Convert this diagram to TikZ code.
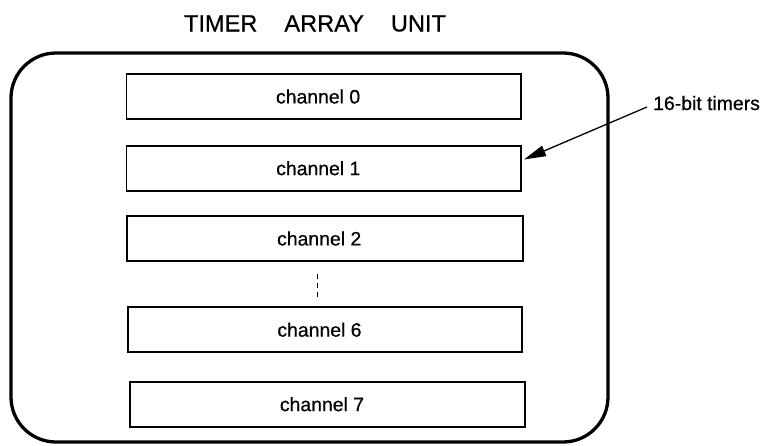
\documentclass[tikz,border=0pt]{standalone}
\usepackage{fontspec}
\setmainfont{Liberation Sans}
\newfontface\medfont{Liberation Sans}[FakeBold=0.6]
\usetikzlibrary{arrows.meta}
\begin{document}
\begin{tikzpicture}[x=1pt,y=-1pt,
  chbox/.style={draw,line width=1.8pt,minimum height=45pt,inner sep=0pt,font=\medfont\fontsize{19.4pt}{22pt}\selectfont},
  outer/.style={draw,line width=3.3pt,rounded corners=45pt,inner sep=0pt},
  lbl/.style={inner sep=0pt,font=\medfont\fontsize{19.4pt}{22pt}\selectfont},
  arr/.style={line width=1.3pt,-{Triangle[length=22pt,width=11pt]}}]
\useasboundingbox (0,0) rectangle (762,445);
\node[inner sep=0pt,font=\medfont\fontsize{23.6pt}{26pt}\selectfont] (title) at (315,23.5)
  {TIMER\hspace{27pt}ARRAY\hspace{27pt}UNIT};
\node[outer,minimum width=597pt,minimum height=389pt] (tau) at (309.5,247.5) {};
\node[chbox,minimum width=394.2pt] (ch0) at (323.6,96.5) {\hspace*{-11pt}channel 0};
\node[chbox,minimum width=394.5pt] (ch1) at (323.8,168.2) {\hspace*{-11pt}channel 1};
\node[chbox,minimum width=396pt] (ch2) at (324.7,238.5) {\hspace*{-11pt}channel 2};
\node[chbox,minimum width=394pt,minimum height=44.7pt] (ch6) at (325,329.7) {\hspace*{-11pt}channel 6};
\node[chbox,minimum width=395pt] (ch7) at (327.5,404.2) {\hspace*{-11pt}channel 7};
\coordinate (d1) at (317.3,274);
\coordinate (d2) at (317.3,298);
\draw[line width=1pt,dash pattern=on 5pt off 4pt] (d1) -- (d2);
\node[lbl,anchor=base west] (timers) at (653,110) {16-bit timers};
\coordinate (a0) at (647,107);
\coordinate (tip) at (524,159.5);
\draw[arr] (a0) -- (tip);
\end{tikzpicture}
\end{document}
